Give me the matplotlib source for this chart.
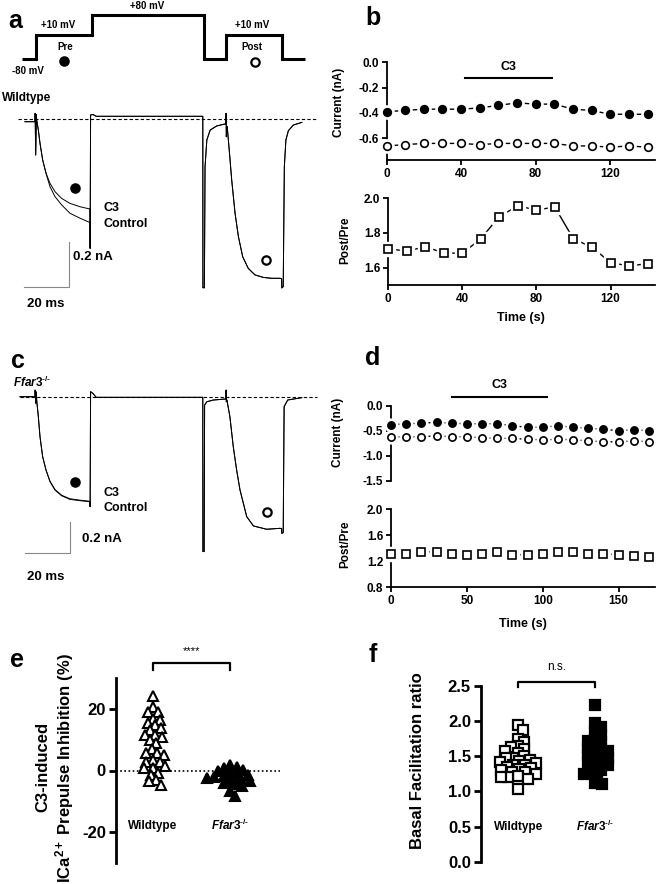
import numpy as np
import matplotlib
matplotlib.use('Agg')
import matplotlib.pyplot as plt

plt.rcParams['font.family'] = ['Liberation Sans', 'DejaVu Sans']
plt.rcParams['font.weight'] = 'bold'
plt.rcParams['axes.unicode_minus'] = False
plt.rcParams['mathtext.fontset'] = 'custom'
plt.rcParams['mathtext.rm'] = 'Liberation Sans:bold'
plt.rcParams['mathtext.it'] = 'Liberation Sans:italic:bold'
plt.rcParams['mathtext.bf'] = 'Liberation Sans:bold'

# ---------------- data ----------------
# voltage protocol (ms, mV)
step_times = [-6, 0, 25, 75, 85, 110, 120]
step_volts = [-80, 10, 80, -80, 10, -80]

# panel a traces (time ms, current nA)
a_common_t = [-4.8, -0.5, -0.3, -0.25, 0.0, 0.3, 0.43, 1.18, 1.92, 3.11, 4.6]
a_common_i = [-0.012, -0.012, -0.012, 0.025, -0.16, 0.02, -0.004, -0.049, -0.108, -0.182, -0.241]
a_pre_t = [6.38, 8.62, 11.6, 15.3, 19.8, 24.2]
a_pre_c3 = [-0.286, -0.323, -0.353, -0.375, -0.39, -0.40]
a_pre_ctrl = [-0.301, -0.345, -0.382, -0.419, -0.441, -0.46]
a_rest_t = [24.3, 24.5, 25.6, 27.0, 74.6, 74.65, 75.3, 75.6, 76.4, 77.9, 80.8, 84.5,
            84.9, 85.0, 85.1, 85.3, 85.5, 86.4, 87.5, 89.0, 90.5, 92.4, 94.9, 97.9,
            101.6, 105.3, 109.1, 109.8, 109.85, 110.5, 111.0, 111.7, 112.8, 115.0, 118.8]
a_rest_i = [-0.575, 0.018, 0.02, 0.012, 0.012, -0.75, -0.75, -0.212, -0.093, -0.049, -0.031, -0.022,
            -0.022, 0.025, -0.079, -0.04, -0.034, -0.138, -0.271, -0.419, -0.523, -0.612, -0.664, -0.693,
            -0.704, -0.708, -0.708, -0.71, -0.751, -0.745, -0.212, -0.093, -0.052, -0.027, -0.015]

# panel c traces
c_common_t = [-7.0, -0.5, -0.3, -0.25, 0.0, 0.3, 0.43, 1.18, 1.92, 3.11, 4.6]
c_common_i = [0.0, 0.0, 0.0, 0.042, -0.042, 0.03, -0.021, -0.127, -0.253, -0.38, -0.464]
c_pre_t = [6.38, 8.62, 11.6, 15.3, 19.8, 24.2]
c_pre_c3 = [-0.535, -0.588, -0.624, -0.646, -0.655, -0.662]
c_pre_ctrl = [-0.538, -0.591, -0.627, -0.65, -0.658, -0.665]
c_rest_t = [24.3, 24.5, 25.6, 27.0, 74.6, 74.65, 75.2, 75.4, 76.4, 79.3, 84.5,
            84.9, 85.0, 85.1, 85.3, 85.5, 86.7, 88.2, 89.7, 91.2, 94.2, 97.2, 103.1, 109.1,
            109.8, 109.85, 110.5, 110.9, 112.5, 118.8]
c_rest_i = [-0.696, 0.032, 0.02, -0.004, -0.004, -0.98, -0.98, -0.053, -0.032, -0.021, -0.015,
            -0.015, 0.042, -0.032, -0.02, -0.032, -0.127, -0.316, -0.464, -0.59, -0.759, -0.818, -0.839, -0.833,
            -0.835, -0.865, -0.86, -0.063, -0.021, -0.006]

# panel b
b_time = [0, 10, 20, 30, 40, 50, 60, 70, 80, 90, 100, 110, 120, 130, 140]
b_pre = [-0.39, -0.38, -0.37, -0.37, -0.37, -0.36, -0.34, -0.32, -0.33, -0.33, -0.37, -0.38, -0.41, -0.41, -0.41]
b_post = [-0.66, -0.65, -0.64, -0.64, -0.64, -0.65, -0.64, -0.64, -0.64, -0.64, -0.66, -0.66, -0.67, -0.66, -0.67]
b_ratio = [1.71, 1.695, 1.72, 1.686, 1.682, 1.766, 1.895, 1.956, 1.933, 1.949, 1.766, 1.718, 1.629, 1.61, 1.623]
b_c3 = [42, 89]

# panel d
d_time = [0, 10, 20, 30, 40, 50, 60, 70, 80, 90, 100, 110, 120, 130, 140, 150, 160, 170]
d_pre = [-0.38, -0.36, -0.35, -0.33, -0.35, -0.36, -0.36, -0.36, -0.40, -0.43, -0.43, -0.40, -0.43, -0.45, -0.47, -0.50, -0.48, -0.50]
d_post = [-0.62, -0.62, -0.62, -0.60, -0.62, -0.62, -0.64, -0.65, -0.65, -0.67, -0.68, -0.67, -0.68, -0.70, -0.72, -0.72, -0.70, -0.72]
d_ratio = [1.31, 1.31, 1.34, 1.35, 1.32, 1.30, 1.32, 1.34, 1.30, 1.30, 1.32, 1.35, 1.34, 1.32, 1.32, 1.30, 1.28, 1.27]
d_c3 = [40, 103]

# panel e
groups = ['Wildtype', 'Ffar3']
e_wt = [24.4, 20.6, 19.0, 19.0, 16.9, 16.4, 15.3, 14.7, 13.7, 13.1, 11.5, 11.5, 11.0, 9.9, 8.8,
        7.0, 5.6, 5.6, 5.1, 3.5, 2.9, 2.9, 1.5, 0.8, 0.8, -0.8, -1.4, -3.0, -3.5, -4.6]
e_ko = [1.8, 1.3, 0.8, 0.3, -0.3, -0.8, -1.0, -1.4, -1.8, -2.2, -2.5, -2.8, -3.1, -3.5, -4.1,
        -4.5, -5.2, -6.8, -8.2]

# panel f
f_wt = [1.95, 1.88, 1.75, 1.70, 1.65, 1.63, 1.6, 1.58, 1.55, 1.5, 1.48, 1.47, 1.45, 1.43, 1.42,
        1.4, 1.38, 1.37, 1.35, 1.33, 1.32, 1.3, 1.28, 1.27, 1.25, 1.22, 1.2, 1.2, 1.18, 1.03]
f_ko = [2.23, 1.98, 1.92, 1.85, 1.8, 1.75, 1.72, 1.7, 1.65, 1.62, 1.6, 1.58, 1.55, 1.52, 1.5,
        1.48, 1.45, 1.42, 1.4, 1.38, 1.35, 1.3, 1.27, 1.25, 1.22, 1.12, 1.1]

# ---------------- layout helpers ----------------
W, H = 660, 884
fig = plt.figure(figsize=(W / 100, H / 100), dpi=100)
fig.patch.set_facecolor('white')


def ax_px(x0, y0, x1, y1):
    return fig.add_axes([x0 / W, 1 - y1 / H, (x1 - x0) / W, (y1 - y0) / H])


KO_LABEL = r'$\mathit{Ffar3}^{\mathit{\text{-/-}}}$'
TX0, TK = 35.7, 2.24  # trace time origin px and px per ms


def tlim():
    return ((0 - TX0) / TK, (330 - TX0) / TK)


def style(ax, lw=1.3, size=8.5, length=3.5):
    for s in ['top', 'right']:
        ax.spines[s].set_visible(False)
    for s in ['left', 'bottom']:
        ax.spines[s].set_linewidth(lw)
    ax.tick_params(width=lw, length=length, labelsize=size, pad=2)
    ax.patch.set_alpha(0)


def halo_plot(ax, x, y, marker, filled, ms, mew=1.2):
    ax.plot(x, y, '-', color='k', lw=1.0, zorder=2, clip_on=False)
    ax.plot(x, y, ls='none', marker=marker, ms=ms + 4, mfc='white', mec='white', zorder=3, clip_on=False)
    ax.plot(x, y, ls='none', marker=marker, ms=ms, mfc='k' if filled else 'white', mec='k',
            mew=mew, zorder=4, clip_on=False)


def beeswarm(vals, ypx, d):
    y = np.asarray(vals, float) * ypx
    xs = np.zeros(len(y))
    placed = []
    for i in np.argsort(-y):
        cands = [0.0]
        for j in placed:
            dy = y[i] - y[j]
            if abs(dy) < d:
                dx = np.sqrt(d * d - dy * dy)
                cands += [xs[j] + dx, xs[j] - dx]
        cands.sort(key=abs)
        for c in cands:
            if all((c - xs[j]) ** 2 + (y[i] - y[j]) ** 2 >= d * d - 1e-6 for j in placed):
                xs[i] = c
                break
        placed.append(i)
    return xs


# ---------------- panel a ----------------
axp = ax_px(0, 0, 330, 90)
axp.set_xlim(*tlim())
axp.set_ylim(-80 - (90 - 59.3) / 0.275, -80 + 59.3 / 0.275)
axp.stairs(step_volts, step_times, baseline=None, color='k', lw=2.2)
axp.axis('off')


def draw_trace(ax, ct, ci, pt, p1, p2, rt, ri, ylo, yhi, base_from):
    ax.set_xlim(*tlim())
    ax.set_ylim(ylo, yhi)
    for pre in (p1, p2):
        t = ct + pt + rt
        i = ci + pre + ri
        ax.plot(t, i, color='k', lw=0.7)
    ax.plot([base_from, (317 - TX0) / TK], [0, 0], color='k', lw=0.8, ls=(0, (3, 2)))
    ax.axis('off')


axa = ax_px(0, 90, 330, 320)
draw_trace(axa, a_common_t, a_common_i, a_pre_t, a_pre_c3, a_pre_ctrl, a_rest_t, a_rest_i,
           -(320 - 119) / 225, (119 - 90) / 225, (18 - TX0) / TK)
# scale bars (20 ms, 0.2 nA)
axa.plot([(24 - TX0) / TK, (24 - TX0) / TK + 20, (24 - TX0) / TK + 20],
         [-0.747, -0.747, -0.547], color='#888888', lw=0.8)

axc = ax_px(0, 370, 330, 580)
draw_trace(axc, c_common_t, c_common_i, c_pre_t, c_pre_c3, c_pre_ctrl, c_rest_t, c_rest_i,
           -(580 - 396.7) / 158, (396.7 - 370) / 158, (20 - TX0) / TK)
axc.plot([(25 - TX0) / TK, (25 - TX0) / TK + 20, (25 - TX0) / TK + 20],
         [-0.99, -0.99, -0.79], color='#888888', lw=0.8)

# ---------------- panel b ----------------
axb1 = ax_px(386.5, 62.3, 655, 160)
style(axb1)
axb1.set_xlim(0, 144)
axb1.set_ylim(-0.771, 0)
halo_plot(axb1, b_time, b_pre, 'o', True, 5.5)
halo_plot(axb1, b_time, b_post, 'o', False, 5.5)
axb1.set_yticks([0, -0.2, -0.4, -0.6], ['0.0', '-0.2', '-0.4', '-0.6'])
axb1.set_xticks([0, 40, 80, 120])
axb1.plot(b_c3, [-0.126, -0.126], color='k', lw=1.5)
axb1.text(np.mean(b_c3), -0.035, 'C3', ha='center', va='center', fontsize=9)

axb2 = ax_px(388, 198.3, 655, 285)
style(axb2)
axb2.set_xlim(0, 144)
axb2.set_ylim(1.5, 2.0)
halo_plot(axb2, b_time, b_ratio, 's', False, 5.8)
axb2.set_yticks([1.6, 1.8, 2.0], ['1.6', '1.8', '2.0'])
axb2.set_xticks([0, 40, 80, 120])

# ---------------- panel d ----------------
axd1 = ax_px(391, 405.7, 655, 481)
style(axd1)
axd1.spines['bottom'].set_visible(False)
axd1.set_xlim(0, 174)
axd1.set_ylim(-1.5, 0)
axd1.set_xticks([])
halo_plot(axd1, d_time, d_pre, 'o', True, 5.2)
halo_plot(axd1, d_time, d_post, 'o', False, 5.2)
axd1.set_yticks([0, -0.5, -1.0, -1.5], ['0.0', '-0.5', '-1.0', '-1.5'])
axd1.plot(d_c3, [0.18, 0.18], color='k', lw=1.5, clip_on=False)
axd1.text(np.mean(d_c3), 0.41, 'C3', ha='center', va='center', fontsize=9, clip_on=False)

axd2 = ax_px(391, 509.3, 655, 587.3)
style(axd2)
axd2.set_xlim(0, 174)
axd2.set_ylim(0.8, 2.0)
halo_plot(axd2, d_time, d_ratio, 's', False, 5.5)
axd2.set_yticks([0.8, 1.2, 1.6, 2.0], ['0.8', '1.2', '1.6', '2.0'])
axd2.set_xticks([0, 50, 100, 150])

# ---------------- panel e ----------------
axe = ax_px(115.7, 678.3, 280, 862.7)
style(axe, lw=2.0, size=12, length=5)
axe.spines['bottom'].set_visible(False)
axe.set_xticks([])
axe.set_xlim(-(153 - 115.7) / 77, (280 - 153) / 77)
axe.set_ylim(-30, 30)
axe.set_yticks([-20, 0, 20], ['-20', '0', '20'])
axe.axhline(0, color='k', lw=1.2, ls=(0, (1, 1.5)), zorder=1)
for k, (vals, filled) in enumerate([(e_wt, False), (e_ko, True)]):
    xs = beeswarm(vals, 3.1, 7.0)
    axe.plot(k + xs / 77, vals, ls='none', marker='^', ms=7.5, mew=1.5, mec='k',
             mfc='k' if filled else 'white', clip_on=False, zorder=3)
axe.plot([0, 0, 1, 1], [32.6, 35, 35, 32.6], color='k', lw=1.6, clip_on=False)
axe.text(0.5, 38.9, '****', ha='center', va='center', fontsize=8, fontweight='normal')
axe.text(0, -18, 'Wildtype', ha='center', va='center', fontsize=8.5)
axe.text(1, -18, KO_LABEL, ha='center', va='center', fontsize=8.5)

# ---------------- panel f ----------------
axf = ax_px(480.7, 686, 630, 861.7)
style(axf, lw=2.0, size=12, length=5)
axf.spines['bottom'].set_visible(False)
axf.set_xticks([])
axf.set_xlim(-(518.3 - 480.7) / 76.7, (630 - 518.3) / 76.7)
axf.set_ylim(0, 2.5)
axf.set_yticks([0, 0.5, 1.0, 1.5, 2.0, 2.5], ['0.0', '0.5', '1.0', '1.5', '2.0', '2.5'])
for k, (vals, filled) in enumerate([(f_wt, False), (f_ko, True)]):
    xs = beeswarm(vals, 70.2, 7.0)
    axf.plot(k + xs / 76.7, vals, ls='none', marker='s', ms=6.5, mew=1.6, mec='k',
             mfc='k' if filled else 'white', clip_on=False, zorder=3)
axf.plot([0, 0, 1, 1], [2.49, 2.561, 2.561, 2.49], color='k', lw=1.6, clip_on=False)
axf.text(0.5, 2.775, 'n.s.', ha='center', va='center', fontsize=8.5, fontweight='normal')
axf.text(0, 0.5, 'Wildtype', ha='center', va='center', fontsize=8.5)
axf.text(1, 0.5, KO_LABEL, ha='center', va='center', fontsize=8.5)

# ---------------- overlay annotations (pixel coords) ----------------
ov = fig.add_axes([0, 0, 1, 1])
ov.set_xlim(0, W)
ov.set_ylim(H, 0)
ov.axis('off')


def T(x, y, s, size=8.5, ha='center', va='center', **kw):
    ov.text(x, y, s, fontsize=size, ha=ha, va=va, **kw)


for lab, x, y in [('a', 15, 21), ('b', 373, 18), ('c', 18, 361), ('d', 373, 358), ('e', 17, 660), ('f', 373, 655)]:
    T(x, y, lab, size=18)

T(58, 25, '+10 mV', size=7)
T(147, 6, '+80 mV', size=7)
T(252, 25, '+10 mV', size=7)
T(65, 47, 'Pre', size=7)
T(252, 47, 'Post', size=7)
T(28, 71, '-80 mV', size=7)
T(2, 98, 'Wildtype', size=8.5, ha='left')
T(13, 382, KO_LABEL, size=8.5, ha='left')

for (cx, cy, filled) in [(64, 61, True), (255, 62, False), (75, 188, True), (266, 260, False),
                         (75, 482, True), (267, 512, False)]:
    ov.plot(cx, cy, marker='o', ms=6, mew=1.6, mec='k', mfc='k' if filled else 'white')

T(103, 208, 'C3', size=9, ha='left')
T(103, 224, 'Control', size=9, ha='left')
T(73, 257, '0.2 nA', size=9.5, ha='left')
T(27, 304, '20 ms', size=9.5, ha='left')
T(103, 493, 'C3', size=9, ha='left')
T(103, 508, 'Control', size=9, ha='left')
T(82, 539, '0.2 nA', size=9.5, ha='left')
T(27, 577, '20 ms', size=9.5, ha='left')

T(339, 102, 'Current (nA)', size=8.5, rotation=90)
T(345, 240, 'Post/Pre', size=8.5, rotation=90)
T(521, 318, 'Time (s)', size=9)
T(338, 432, 'Current (nA)', size=8.5, rotation=90)
T(345, 544, 'Post/Pre', size=8.5, rotation=90)
T(523, 624, 'Time (s)', size=9)

T(43, 767, 'C3-induced', size=12, rotation=90)
T(65, 768, r'ICa$^{\mathrm{2+}}$ Prepulse Inhibition (%)', size=12, rotation=90)
T(418, 761, 'Basal Facilitation ratio', size=12, rotation=90)

fig.savefig('out.png', dpi=100, facecolor='white')
